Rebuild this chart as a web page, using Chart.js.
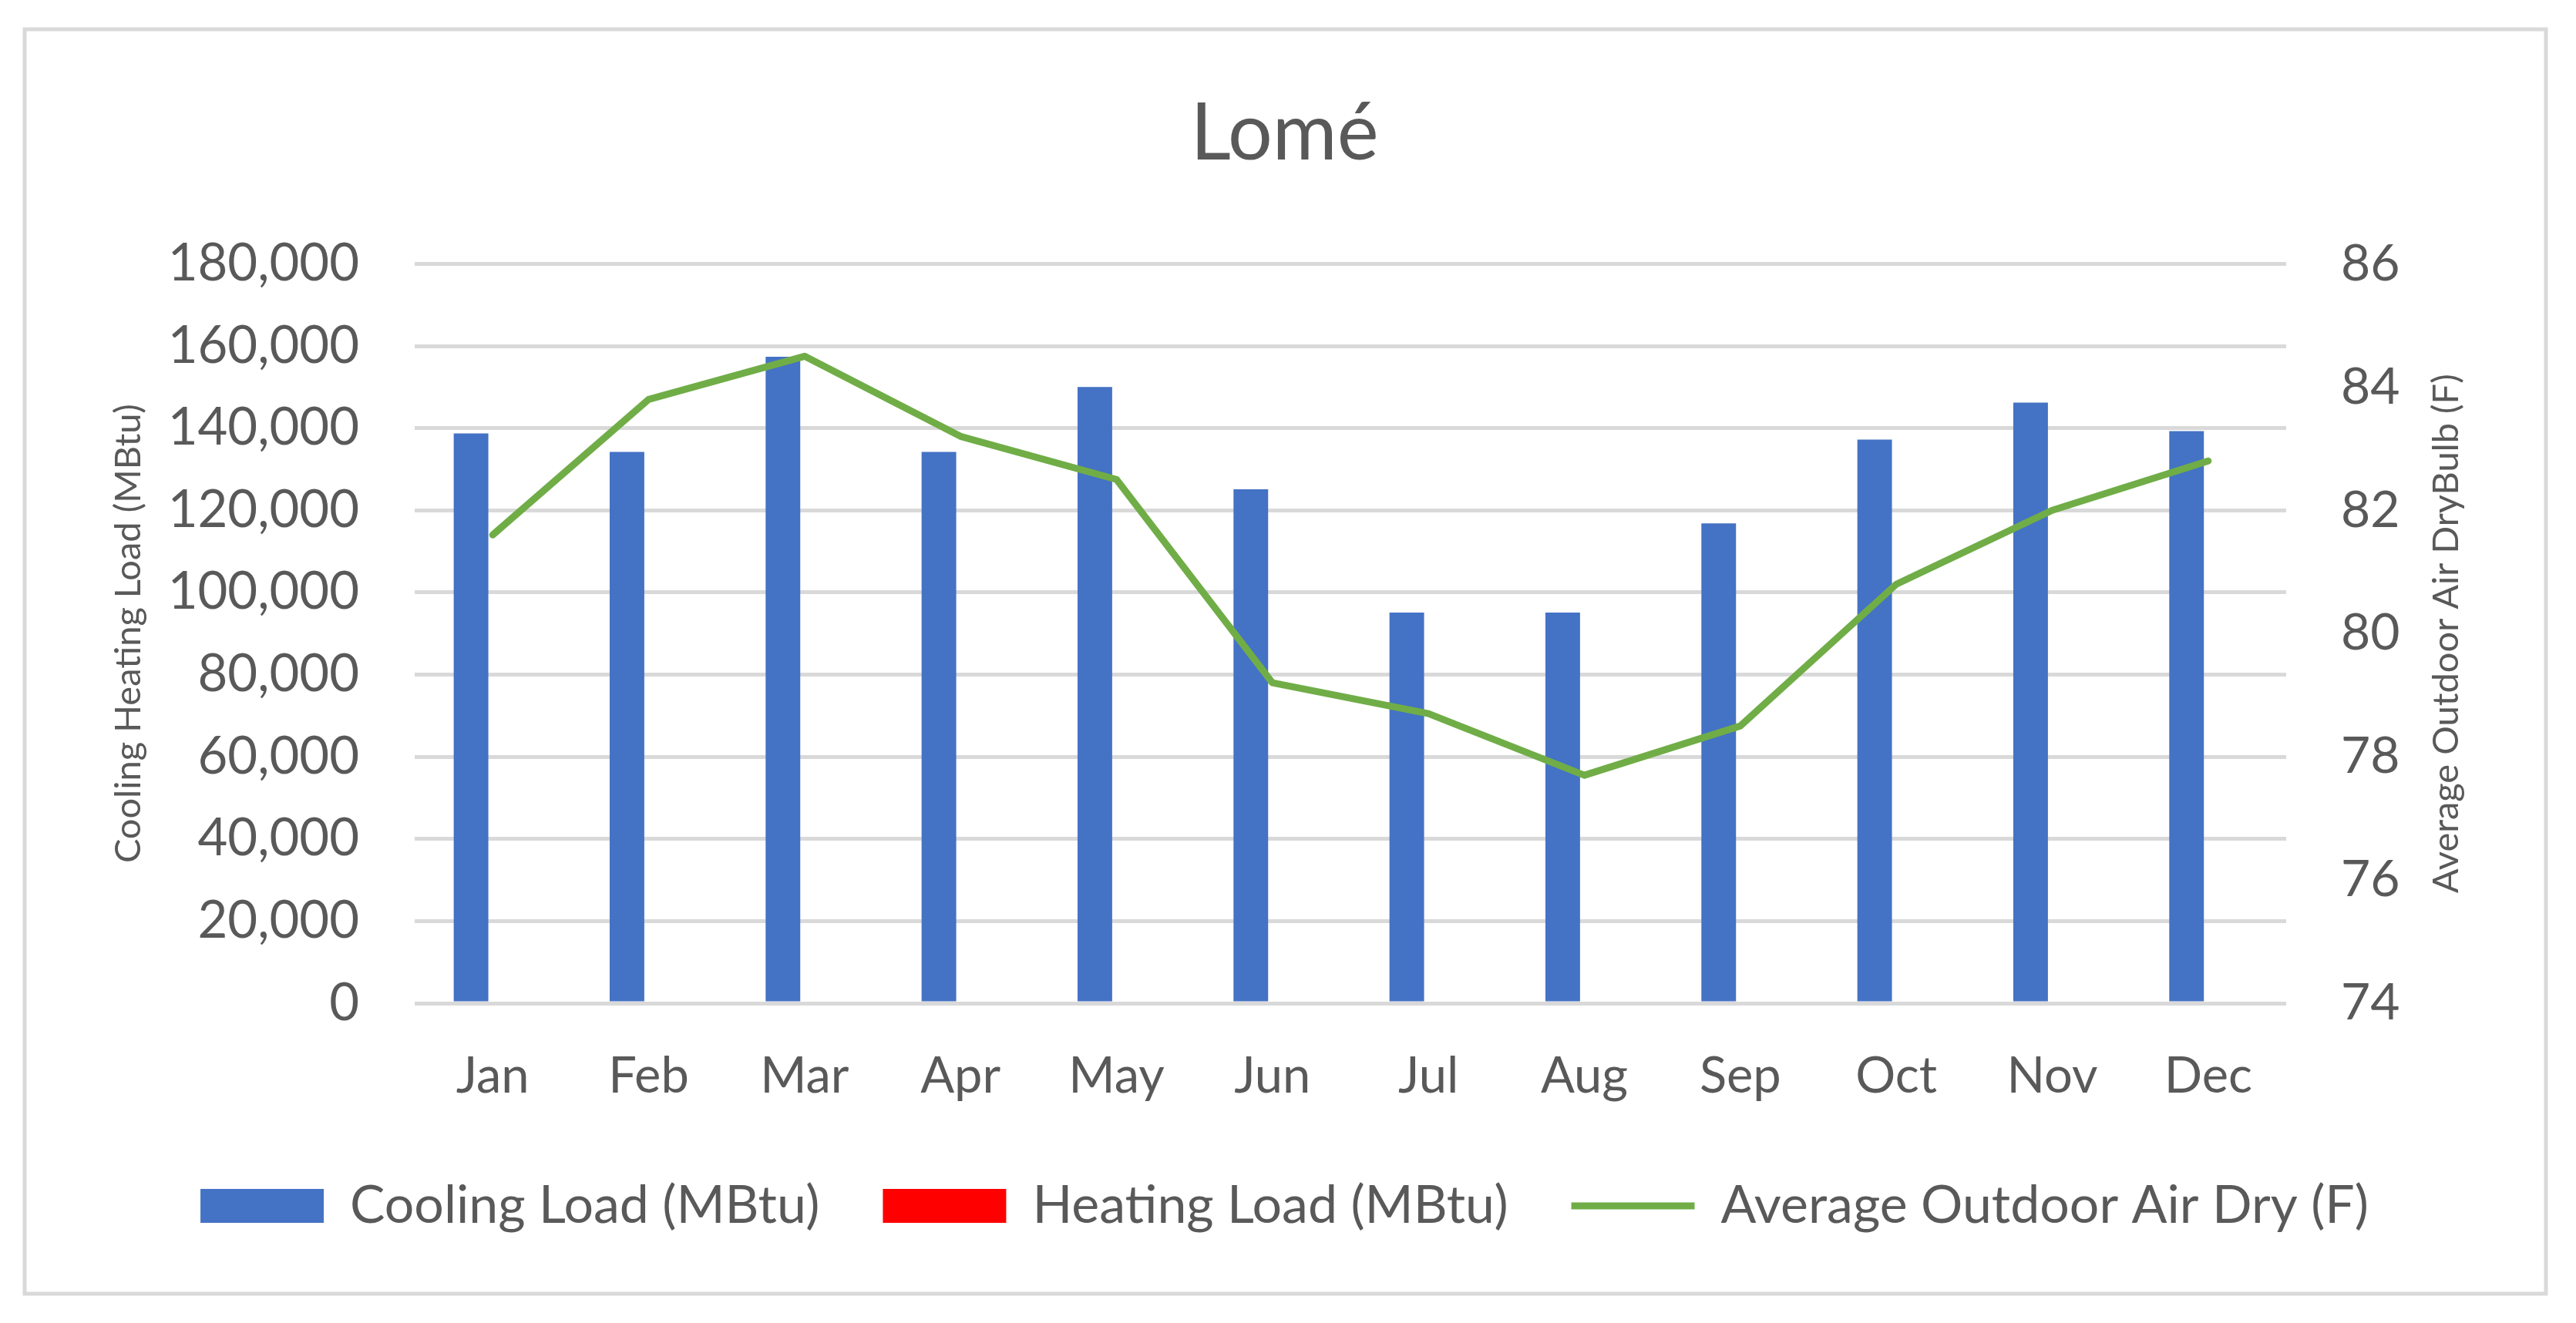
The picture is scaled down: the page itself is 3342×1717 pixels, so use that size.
<!DOCTYPE html>
<html>
<head>
<meta charset="utf-8">
<title>Lomé</title>
<script src="https://cdn.jsdelivr.net/npm/chart.js@4.4.1/dist/chart.umd.min.js"></script>
<style>
  html, body { margin: 0; padding: 0; background: #fff; }
  #wrap { width: 3342px; height: 1717px; }
</style>
</head>
<body>
<div id="wrap"><canvas id="chart" width="3342" height="1717"></canvas></div>
<script>
// Monthly loads and outdoor temperature
const months = ['Jan', 'Feb', 'Mar', 'Apr', 'May', 'Jun', 'Jul', 'Aug', 'Sep', 'Oct', 'Nov', 'Dec'];
const coolingLoad = [138700, 134200, 157400, 134200, 150000, 125100, 95100, 95100, 116800, 137200, 146200, 139300];
const heatingLoad = [0, 0, 0, 0, 0, 0, 0, 0, 0, 0, 0, 0];
const outdoorDryBulb = [81.6, 83.8, 84.5, 83.2, 82.5, 79.2, 78.7, 77.7, 78.5, 80.8, 82.0, 82.8];

const loadTicks = [0, 20000, 40000, 60000, 80000, 100000, 120000, 140000, 160000, 180000];
const tempTicks = [74, 76, 78, 80, 82, 84, 86];

const textColor = '#595959';
const gridColor = '#D9D9D9';
const fontFamily = 'Lato, "Open Sans", sans-serif';

// white background + light grey frame round the chart
const framePlugin = {
  id: 'frame',
  beforeDraw(chart) {
    const ctx = chart.ctx;
    ctx.save();
    ctx.fillStyle = '#fff';
    ctx.fillRect(0, 0, chart.width, chart.height);
    ctx.strokeStyle = gridColor;
    ctx.lineWidth = 5;
    ctx.strokeRect(32, 38, 3303 - 32, 1679 - 38);
    ctx.restore();
  }
};

// the secondary axis title reads bottom-to-top, which Chart.js won't do on a right axis
const rightTitlePlugin = {
  id: 'rightTitle',
  afterDraw(chart) {
    const ctx = chart.ctx;
    const area = chart.chartArea;
    ctx.save();
    ctx.translate(3174, (area.top + area.bottom) / 2);
    ctx.rotate(-Math.PI / 2);
    ctx.font = '47px ' + fontFamily;
    ctx.fillStyle = textColor;
    ctx.textAlign = 'center';
    ctx.textBaseline = 'middle';
    ctx.fillText('Average Outdoor Air DryBulb (F)', 0, 0);
    ctx.restore();
  }
};

const ctx = document.getElementById('chart').getContext('2d');
const chart = new Chart(ctx, {
  type: 'bar',
  data: {
    labels: months,
    datasets: [
      {
        type: 'line',
        label: 'Average Outdoor Air Dry (F)',
        data: outdoorDryBulb,
        yAxisID: 'yTemp',
        borderColor: '#70AD47',
        backgroundColor: '#70AD47',
        borderWidth: 9,
        pointRadius: 0,
        tension: 0,
        borderJoinStyle: 'round',
        borderCapStyle: 'round',
        order: 0
      },
      {
        label: 'Cooling Load (MBtu)',
        data: coolingLoad,
        yAxisID: 'yLoad',
        backgroundColor: '#4472C4',
        categoryPercentage: 0.555,
        barPercentage: 0.8,
        order: 1
      },
      {
        label: 'Heating Load (MBtu)',
        data: heatingLoad,
        yAxisID: 'yLoad',
        backgroundColor: '#FF0000',
        categoryPercentage: 0.555,
        barPercentage: 0.8,
        order: 1
      }
    ]
  },
  options: {
    responsive: false,
    animation: false,
    devicePixelRatio: 1,
    layout: { padding: { top: 36, bottom: 108, left: 30, right: 39 } },
    plugins: {
      title: {
        display: true,
        text: 'Lomé',
        color: textColor,
        font: { family: fontFamily, size: 102, weight: 'normal' },
        padding: { top: 77, bottom: 107 }
      },
      legend: {
        position: 'bottom',
        labels: {
          color: textColor,
          font: { family: fontFamily, size: 68 },
          usePointStyle: true,
          pointStyleWidth: 160,
          boxHeight: 44,
          padding: 82,
          generateLabels(chart) {
            const ds = chart.data.datasets;
            // legend order: cooling, heating, temperature
            return [1, 2, 0].map(i => ({
              text: ds[i].label,
              datasetIndex: i,
              fillStyle: ds[i].backgroundColor,
              strokeStyle: ds[i].borderColor || ds[i].backgroundColor,
              lineWidth: ds[i].type === 'line' ? 9 : 0,
              pointStyle: ds[i].type === 'line' ? 'line' : 'rect',
              fontColor: textColor,
              hidden: false
            }));
          }
        }
      },
      tooltip: { enabled: false }
    },
    scales: {
      x: {
        grid: { display: false },
        border: { display: false },
        ticks: {
          color: textColor,
          font: { family: fontFamily, size: 65 },
          padding: 48,
          maxRotation: 0
        },
        afterFit(scale) { scale.height = 147; }
      },
      yLoad: {
        position: 'left',
        min: loadTicks[0],
        max: loadTicks[loadTicks.length - 1],
        grid: { color: gridColor, lineWidth: 5, drawTicks: false },
        border: { display: false },
        ticks: {
          stepSize: loadTicks[1] - loadTicks[0],
          color: textColor,
          font: { family: fontFamily, size: 67 },
          padding: 72
        },
        title: {
          display: true,
          text: 'Cooling Heating Load (MBtu)',
          color: textColor,
          font: { family: fontFamily, size: 47 },
          padding: { top: 109, bottom: 0 }
        },
        afterFit(scale) { scale.width = 508; }
      },
      yTemp: {
        position: 'right',
        min: tempTicks[0],
        max: tempTicks[tempTicks.length - 1],
        grid: { display: false, drawTicks: false },
        border: { display: false },
        ticks: {
          stepSize: tempTicks[1] - tempTicks[0],
          color: textColor,
          font: { family: fontFamily, size: 66 },
          padding: 71
        },
        afterFit(scale) { scale.width = 337; }
      }
    }
  },
  plugins: [framePlugin, rightTitlePlugin]
});
</script>
</body>
</html>
